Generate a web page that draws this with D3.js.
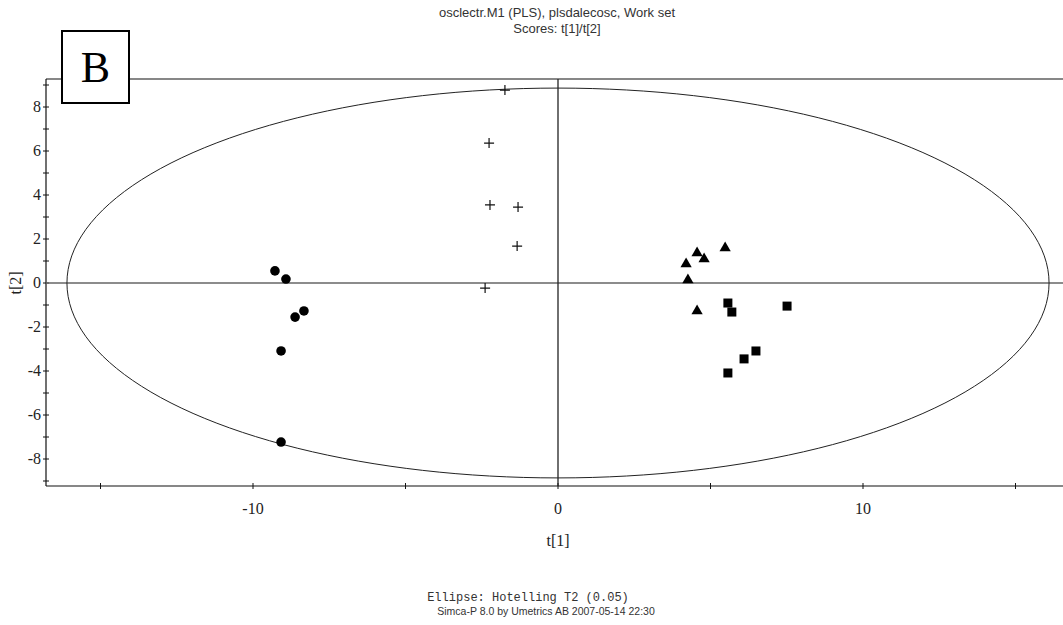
<!DOCTYPE html>
<html lang="en">
<head>
<meta charset="utf-8">
<title>Scores t[1]/t[2]</title>
<script src="https://cdn.jsdelivr.net/npm/d3@7"></script>
<style>
  body { margin: 0; background: #fff; }
  svg text { fill: #222; }
  .tick-label { font-family: "Liberation Serif", "Times New Roman", serif; font-size: 16px; }
  .title { font-family: "Liberation Sans", Arial, sans-serif; font-size: 13px; fill: #333; }
</style>
</head>
<body>
<script>
// score values
var crossT1 = [-1.74, -2.26, -2.23, -1.31, -1.34, -2.39];
var crossT2 = [8.77, 6.36, 3.55, 3.45, 1.68, -0.23];
var circleT1 = [-9.28, -8.92, -8.33, -8.62, -9.08, -9.08];
var circleT2 = [0.55, 0.18, -1.27, -1.55, -3.09, -7.23];
var triT1 = [5.48, 4.56, 4.79, 4.20, 4.26, 4.56];
var triT2 = [1.59, 1.36, 1.09, 0.86, 0.14, -1.27];
var sqT1 = [5.57, 5.70, 7.51, 6.49, 6.10, 5.57];
var sqT2 = [-0.91, -1.32, -1.05, -3.09, -3.45, -4.09];
var ellipseRadii = [16.1, 8.86];   // Hotelling T2 (0.05)
var xTicks = [-15, -10, -5, 0, 5, 10, 15];
var xLabels = [-10, 0, 10];
var yTicks = [-9, -8, -7, -6, -5, -4, -3, -2, -1, 0, 1, 2, 3, 4, 5, 6, 7, 8, 9];
var yLabels = [-8, -6, -4, -2, 0, 2, 4, 6, 8];

var w = 1063, h = 625;
var pLeft = 46, pTop = 79, pBottom = 486, pRight = 1063;

var svg = d3.select("body").append("svg").attr("width", w).attr("height", h);

var x = d3.scaleLinear().domain([0, 10]).range([558, 863]);
var y = d3.scaleLinear().domain([0, 8]).range([283, 107]);

// titles
svg.append("text").attr("class", "title").attr("x", 557).attr("y", 17)
  .attr("text-anchor", "middle").text("osclectr.M1 (PLS), plsdalecosc, Work set");
svg.append("text").attr("class", "title").attr("x", 557).attr("y", 33)
  .attr("text-anchor", "middle").text("Scores: t[1]/t[2]");

// frame: top line, left axis, bottom axis
svg.append("line").attr("x1", pLeft).attr("x2", pRight).attr("y1", pTop).attr("y2", pTop)
  .attr("stroke", "#111").attr("stroke-width", 1.2);
svg.append("line").attr("x1", pLeft).attr("x2", pLeft).attr("y1", pTop).attr("y2", pBottom)
  .attr("stroke", "#111").attr("stroke-width", 1.2);
svg.append("line").attr("x1", pLeft).attr("x2", pRight).attr("y1", pBottom).attr("y2", pBottom)
  .attr("stroke", "#111").attr("stroke-width", 1.2);

// ticks
svg.selectAll(".xt").data(xTicks).enter().append("line")
  .attr("x1", function (d) { return x(d); }).attr("x2", function (d) { return x(d); })
  .attr("y1", pBottom - 3).attr("y2", pBottom + 3).attr("stroke", "#111");
svg.selectAll(".xl").data(xLabels).enter().append("text").attr("class", "tick-label")
  .attr("x", function (d) { return x(d); }).attr("y", pBottom + 28)
  .attr("text-anchor", "middle").text(function (d) { return d; });
svg.selectAll(".yt").data(yTicks).enter().append("line")
  .attr("x1", pLeft - 3).attr("x2", pLeft + 3)
  .attr("y1", function (d) { return y(d); }).attr("y2", function (d) { return y(d); })
  .attr("stroke", "#111");
svg.selectAll(".yl").data(yLabels).enter().append("text").attr("class", "tick-label")
  .attr("x", pLeft - 5).attr("y", function (d) { return y(d) + 5; })
  .attr("text-anchor", "end").text(function (d) { return d; });

// axis titles
svg.append("text").attr("class", "tick-label").attr("x", 558).attr("y", 546)
  .attr("text-anchor", "middle").text("t[1]");
svg.append("text").attr("class", "tick-label")
  .attr("transform", "translate(21," + 283 + ") rotate(-90)")
  .attr("text-anchor", "middle").text("t[2]");

// zero lines
svg.append("line").attr("x1", pLeft).attr("x2", pRight).attr("y1", y(0)).attr("y2", y(0))
  .attr("stroke", "#666").attr("stroke-width", 1.6);
svg.append("line").attr("x1", x(0)).attr("x2", x(0)).attr("y1", pTop).attr("y2", pBottom)
  .attr("stroke", "#222").attr("stroke-width", 1.3);

// Hotelling ellipse
var angles = d3.range(0, 361, 2);
var ellipse = d3.line()
  .x(function (a) { return x(ellipseRadii[0] * Math.cos(a * Math.PI / 180)); })
  .y(function (a) { return y(ellipseRadii[1] * Math.sin(a * Math.PI / 180)); })
  .curve(d3.curveLinearClosed);
svg.append("path").attr("d", ellipse(angles)).attr("fill", "none")
  .attr("stroke", "#222").attr("stroke-width", 1);

// markers
function pts(t1, t2) { return t1.map(function (d, i) { return [d, t2[i]]; }); }

svg.selectAll(".cross").data(pts(crossT1, crossT2)).enter().append("path")
  .attr("transform", function (d) { return "translate(" + x(d[0]) + "," + y(d[1]) + ")"; })
  .attr("d", "M-5,0H5M0,-5V5").attr("stroke", "#111").attr("stroke-width", 1.2);

svg.selectAll(".circ").data(pts(circleT1, circleT2)).enter().append("circle")
  .attr("cx", function (d) { return x(d[0]); }).attr("cy", function (d) { return y(d[1]); })
  .attr("r", 4.8).attr("fill", "#000");

svg.selectAll(".tri").data(pts(triT1, triT2)).enter().append("path")
  .attr("transform", function (d) { return "translate(" + x(d[0]) + "," + y(d[1]) + ")"; })
  .attr("d", d3.symbol().type(d3.symbolTriangle).size(55)).attr("fill", "#000");

svg.selectAll(".sq").data(pts(sqT1, sqT2)).enter().append("rect")
  .attr("x", function (d) { return x(d[0]) - 4.5; }).attr("y", function (d) { return y(d[1]) - 4.5; })
  .attr("width", 9).attr("height", 9).attr("fill", "#000");

// panel letter box
svg.append("rect").attr("x", 62).attr("y", 31).attr("width", 67).attr("height", 72)
  .attr("fill", "#fff").attr("stroke", "#000").attr("stroke-width", 2);
svg.append("text").attr("x", 95.5).attr("y", 82).attr("text-anchor", "middle")
  .style("font-family", "'Liberation Serif', 'Times New Roman', serif")
  .style("font-size", "44px").style("fill", "#000").text("B");

// footer
svg.append("text").attr("x", 528).attr("y", 601).attr("text-anchor", "middle")
  .style("font-family", "'Liberation Mono', 'Courier New', monospace")
  .style("font-size", "12px").style("fill", "#333").text("Ellipse: Hotelling T2 (0.05)");
svg.append("text").attr("x", 546).attr("y", 615).attr("text-anchor", "middle")
  .style("font-family", "'Liberation Sans', Arial, sans-serif")
  .style("font-size", "10.5px").style("fill", "#333").text("Simca-P 8.0 by Umetrics AB 2007-05-14 22:30");
</script>
</body>
</html>
